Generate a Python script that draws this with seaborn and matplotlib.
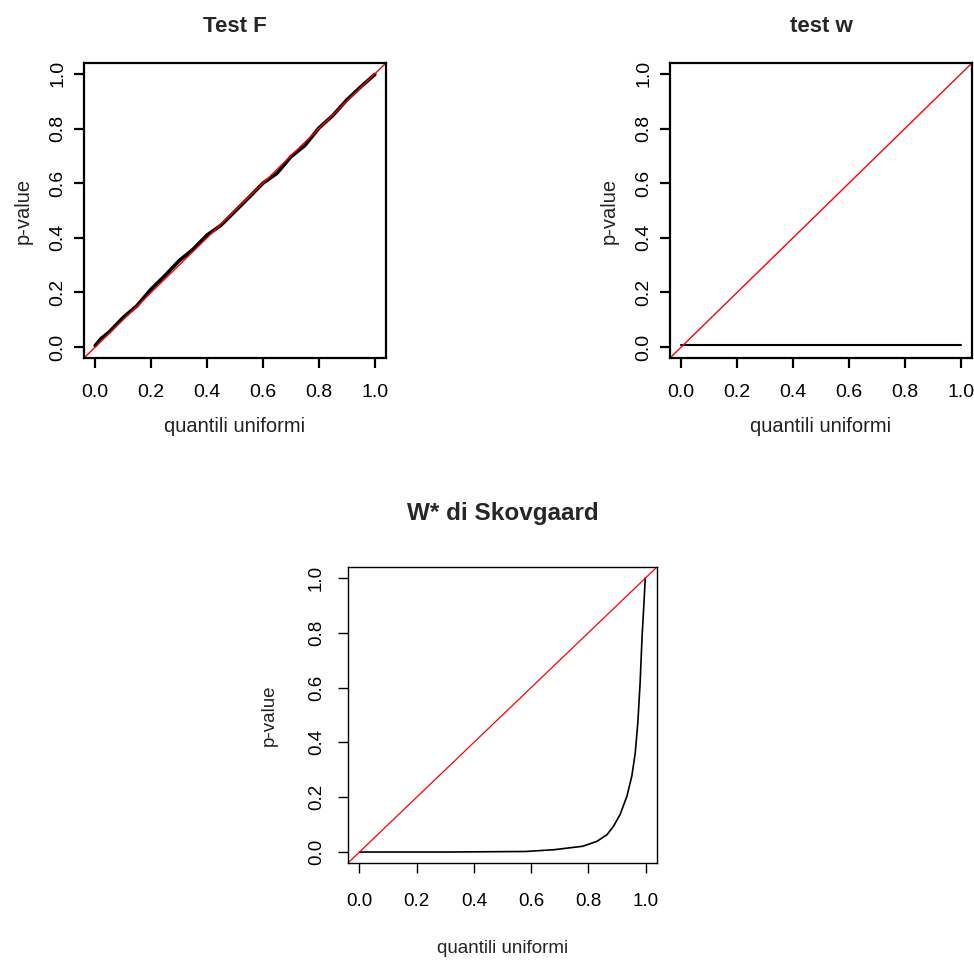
import matplotlib
matplotlib.use("Agg")
import matplotlib.pyplot as plt
import seaborn as sns
import pandas as pd

sns.set_theme(style="ticks")
plt.rcParams['font.family'] = ['Liberation Sans', 'DejaVu Sans']

# Test F: p-values vs uniform quantiles (close to the diagonal)
f_quant = [0.0, 0.02, 0.05, 0.1, 0.15, 0.2, 0.25, 0.3, 0.35, 0.4, 0.45,
           0.5, 0.55, 0.6, 0.65, 0.7, 0.75, 0.8, 0.85, 0.9, 0.95, 1.0]
f_pval = [0.005, 0.03, 0.055, 0.108, 0.152, 0.212, 0.262, 0.316, 0.358, 0.41, 0.446,
          0.497, 0.548, 0.6, 0.636, 0.697, 0.738, 0.802, 0.848, 0.905, 0.953, 0.998]

# test w: p-values stuck near zero
w_quant = [0.0, 0.25, 0.5, 0.75, 1.0]
w_pval = [0.006, 0.006, 0.006, 0.006, 0.006]

# W* di Skovgaard
s_quant = [0.0, 0.3, 0.58, 0.68, 0.78, 0.83, 0.865, 0.888, 0.911, 0.935, 0.952,
           0.964, 0.973, 0.981, 0.988, 0.994, 0.997, 0.999]
s_pval = [0.0, 0.0, 0.002, 0.0085, 0.021, 0.039, 0.063, 0.094, 0.137, 0.204, 0.277,
          0.362, 0.472, 0.618, 0.789, 0.9, 0.96, 1.0]

ticks = [0.0, 0.2, 0.4, 0.6, 0.8, 1.0]
tick_labels = ['0.0', '0.2', '0.4', '0.6', '0.8', '1.0']

W, H = 974, 961
fig = plt.figure(figsize=(W / 100, H / 100), dpi=100)


def make_ax(left, top, right, bottom):
    return fig.add_axes([left / W, 1 - bottom / H, (right - left) / W, (bottom - top) / H])


def style(ax, title, lw, tsize, tpad, ticksize, xtpad, ytpad, labsize, xlpad, ylpad):
    ax.set_xlim(-0.04, 1.04)
    ax.set_ylim(-0.04, 1.04)
    ax.set_xticks(ticks)
    ax.set_xticklabels(tick_labels)
    ax.set_yticks(ticks)
    ax.set_yticklabels(tick_labels, rotation=90, va='center')
    for s in ax.spines.values():
        s.set_visible(True)
        s.set_linewidth(lw)
        s.set_color('black')
    ax.tick_params(axis='both', direction='out', length=7.5, width=lw,
                   labelsize=ticksize, colors='black')
    ax.tick_params(axis='x', pad=xtpad)
    ax.tick_params(axis='y', pad=ytpad)
    ax.set_title(title, fontsize=tsize, fontweight='bold', pad=tpad)
    ax.set_xlabel('quantili uniformi', fontsize=labsize, labelpad=xlpad, color='#222222')
    ax.set_ylabel('p-value', fontsize=labsize, labelpad=ylpad, color='#222222')


ax1 = make_ax(84, 63, 386, 358)
sns.lineplot(x=f_quant, y=f_pval, ax=ax1, color='black', linewidth=2.6)
ax1.axline((0, 0), slope=1, color='red', linewidth=1)
style(ax1, 'Test F', 1.6, 16, 22, 14, 11, 5, 14.5, 12, 12)

ax2 = make_ax(670, 63, 972, 358)
sns.lineplot(x=w_quant, y=w_pval, ax=ax2, color='black', linewidth=1.5)
ax2.axline((0, 0), slope=1, color='red', linewidth=1)
style(ax2, 'test w', 1.6, 16, 22, 14, 11, 5, 14.5, 12, 12)

ax3 = make_ax(348, 567, 657, 863)
sns.lineplot(x=s_quant, y=s_pval, ax=ax3, color='black', linewidth=1.2)
ax3.axline((0, 0), slope=1, color='red', linewidth=0.9)
style(ax3, 'W* di Skovgaard', 1.0, 17.5, 34, 13.5, 14, 9, 13.5, 22, 22)

fig.savefig('out.png', dpi=100)
